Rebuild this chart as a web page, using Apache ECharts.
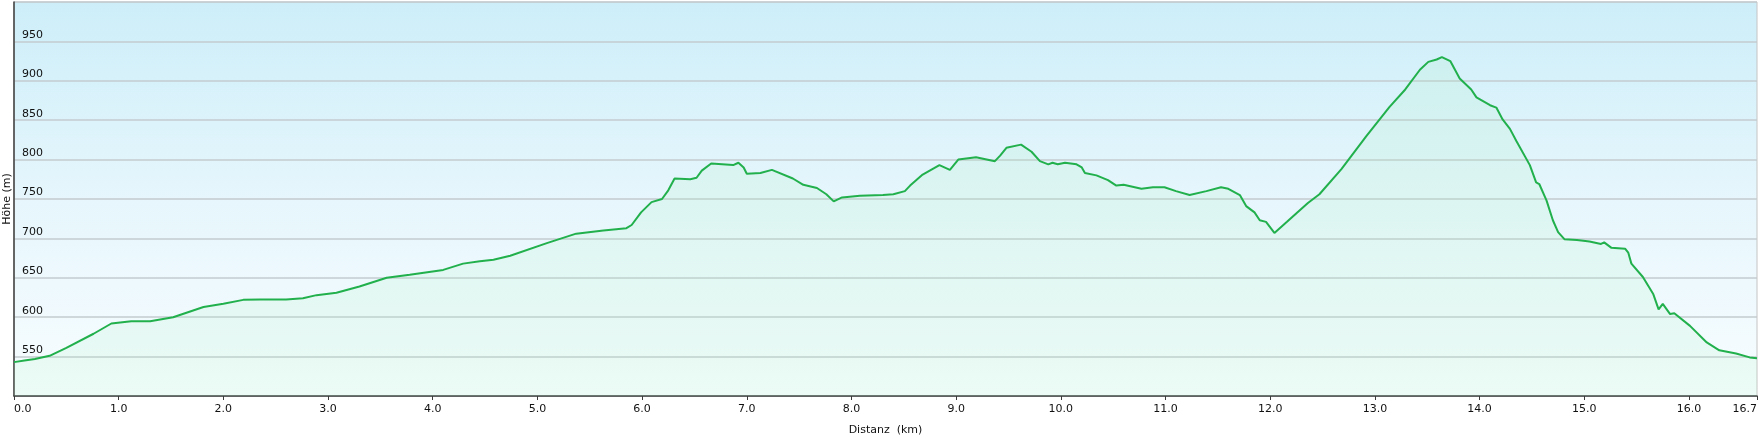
<!DOCTYPE html>
<html>
<head>
<meta charset="utf-8">
<title>Höhenprofil</title>
<script src="https://cdn.jsdelivr.net/npm/echarts@6/dist/echarts.min.js"></script>
<style>
  html, body { margin: 0; padding: 0; background: #fff; }
  #chart { width: 1758px; height: 438px; }
</style>
</head>
<body>
<div id="chart"></div>
<script>
// Distanz (km) und Höhe (m)
const distKm = [
  0.00, 0.10, 0.20, 0.34, 0.50, 0.76, 0.93, 1.12, 1.30, 1.52, 1.81, 2.00, 2.19, 2.35, 2.60,
  2.76, 2.89, 3.08, 3.30, 3.56, 3.78, 4.10, 4.29, 4.45, 4.58, 4.74, 5.09, 5.37, 5.63, 5.85,
  5.90, 5.99, 6.09, 6.19, 6.25, 6.31, 6.46, 6.52, 6.57, 6.66, 6.87, 6.92, 6.97, 7.00, 7.13,
  7.24, 7.44, 7.54, 7.67, 7.76, 7.83, 7.91, 8.08, 8.30, 8.40, 8.51, 8.56, 8.68, 8.84, 8.94,
  9.02, 9.19, 9.37, 9.42, 9.48, 9.62, 9.72, 9.80, 9.88, 9.92, 9.97, 10.04, 10.15, 10.20, 10.23,
  10.34, 10.45, 10.53, 10.60, 10.77, 10.88, 10.99, 11.10, 11.23, 11.39, 11.53, 11.60, 11.71, 11.77, 11.85,
  11.90, 11.96, 12.04, 12.16, 12.36, 12.47, 12.68, 12.92, 13.14, 13.29, 13.43, 13.51, 13.59, 13.64, 13.72,
  13.81, 13.92, 13.97, 14.10, 14.16, 14.22, 14.29, 14.35, 14.48, 14.54, 14.57, 14.64, 14.70, 14.75, 14.81,
  14.93, 15.05, 15.16, 15.19, 15.26, 15.39, 15.42, 15.45, 15.56, 15.66, 15.71, 15.75, 15.82, 15.86, 16.01,
  16.17, 16.29, 16.45, 16.58, 16.65
];
const elevM = [
  543, 545, 547, 551, 561, 579, 592, 595, 595, 600, 613, 617, 622, 622.5, 622.5,
  624, 628, 631, 639, 650, 654, 660, 668, 671, 673, 678, 694, 706, 710, 713,
  717, 733, 746, 750, 761, 776, 775, 777, 786, 795, 793, 796, 790, 782, 783,
  787, 776, 768, 764, 756, 747, 752, 754, 755, 756, 760, 767, 781, 793, 787,
  800, 803, 798, 805, 815, 819, 810, 798, 794, 796, 794, 796, 794, 790, 783,
  780, 774, 767, 768, 763, 765, 765, 760, 755, 760, 765, 763, 755, 741, 733,
  723, 721, 707, 721, 745, 756, 788, 830, 867, 889, 914, 924, 927, 930, 925,
  903, 889, 879, 869, 866, 851, 839, 824, 793, 771, 769, 748, 723, 708, 699,
  698, 696, 693, 695, 688, 687, 682, 668, 651, 629, 610, 617, 604, 605, 589,
  568, 558, 554, 549, 548
];

// Achsenteilung
const distMax = 16.65;
const xTicks = [0, 1, 2, 3, 4, 5, 6, 7, 8, 9, 10, 11, 12, 13, 14, 15, 16, distMax];
const xTickLabels = ['0.0', '1.0', '2.0', '3.0', '4.0', '5.0', '6.0', '7.0', '8.0', '9.0',
  '10.0', '11.0', '12.0', '13.0', '14.0', '15.0', '16.0', '16.7'];

const myChart = echarts.init(document.getElementById('chart'));
const profile = distKm.map((d, i) => [d, elevM[i]]);
const font = 'DejaVu Sans, Verdana, sans-serif';

const option = {
  animation: false,
  backgroundColor: '#ffffff',
  grid: {
    left: 14, right: 1, top: 2, bottom: 42,
    outerBoundsMode: 'none',
    containLabel: false,
    show: true,
    borderColor: '#c4c4c4',
    borderWidth: 1,
    backgroundColor: {
      type: 'linear', x: 0, y: 0, x2: 0, y2: 1,
      colorStops: [
        { offset: 0, color: '#cdeef9' },
        { offset: 0.5, color: '#e6f6fc' },
        { offset: 1, color: '#f8fdff' }
      ]
    }
  },
  xAxis: {
    type: 'value',
    min: 0,
    max: distMax,
    name: 'Distanz  (km)',
    nameLocation: 'middle',
    nameGap: 29,
    nameMoveOverlap: false,
    nameTextStyle: { color: '#111', fontSize: 11, fontFamily: font },
    axisLine: { show: true, lineStyle: { color: '#3c3c3c', width: 1.5 } },
    axisTick: { show: true, length: 4, customValues: xTicks, lineStyle: { color: '#3c3c3c' } },
    axisLabel: {
      customValues: xTicks,
      color: '#111',
      fontSize: 11,
      fontFamily: font,
      margin: 8,
      alignMinLabel: 'left',
      alignMaxLabel: 'right',
      formatter: function (v) {
        const i = xTicks.indexOf(v);
        return i >= 0 ? xTickLabels[i] : '';
      }
    },
    splitLine: { show: false }
  },
  yAxis: {
    type: 'value',
    min: 500,
    max: 1000,
    interval: 50,
    name: 'Höhe (m)',
    nameLocation: 'middle',
    nameGap: 1,
    nameMoveOverlap: false,
    nameTextStyle: { color: '#111', fontSize: 11, fontFamily: font },
    axisLine: { show: true, lineStyle: { color: '#3c3c3c', width: 1.5 } },
    axisTick: { show: false },
    axisLabel: {
      inside: true,
      showMinLabel: false,
      showMaxLabel: false,
      margin: 8,
      color: '#111',
      fontSize: 11,
      fontFamily: font,
      verticalAlign: 'bottom',
      padding: [0, 0, 1, 0]
    },
    splitLine: { show: true, lineStyle: { color: '#c3cbcf', width: 1.5 } }
  },
  series: [{
    type: 'line',
    data: profile,
    showSymbol: false,
    symbol: 'none',
    smooth: false,
    lineStyle: { color: '#22b04d', width: 2 },
    areaStyle: { color: 'rgba(170, 240, 190, 0.22)', origin: 'start' }
  }]
};

myChart.setOption(option);
window.onresize = myChart.resize;
</script>
</body>
</html>
